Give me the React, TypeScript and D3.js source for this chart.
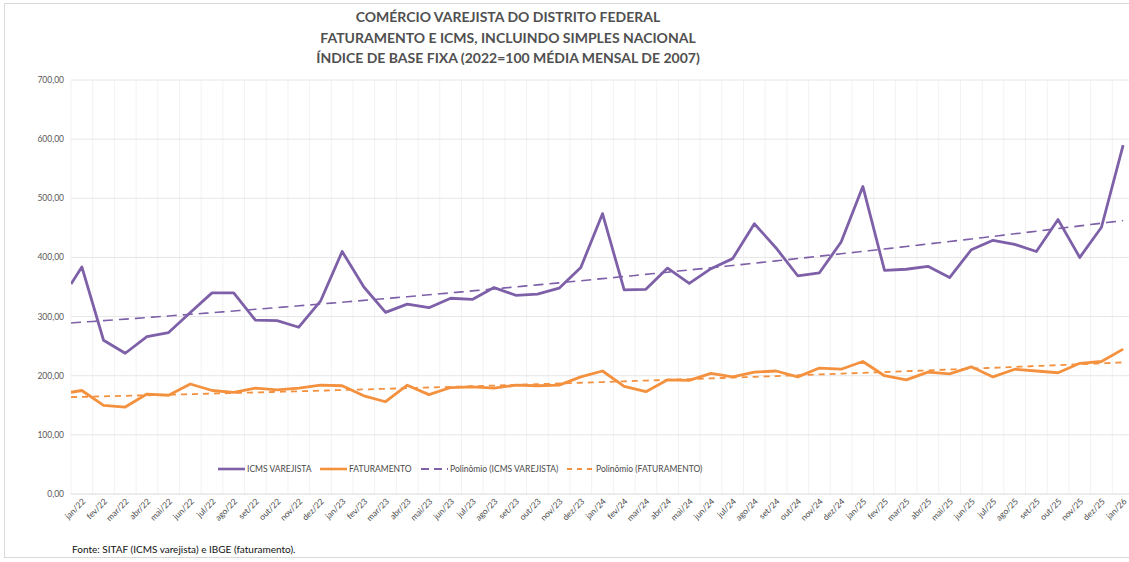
import React from "react";
import * as d3 from "d3";

const months = [
  "jan/22","fev/22","mar/22","abr/22","mai/22","jun/22","jul/22","ago/22","set/22","out/22","nov/22","dez/22",
  "jan/23","fev/23","mar/23","abr/23","mai/23","jun/23","jul/23","ago/23","set/23","out/23","nov/23","dez/23",
  "jan/24","fev/24","mar/24","abr/24","mai/24","jun/24","jul/24","ago/24","set/24","out/24","nov/24","dez/24",
  "jan/25","fev/25","mar/25","abr/25","mai/25","jun/25","jul/25","ago/25","set/25","out/25","nov/25","dez/25",
  "jan/26",
];

const icms = [
  384, 260, 238, 266, 273, 307, 340, 340, 294, 293, 282, 326,
  410, 350, 307, 321, 315, 331, 329, 349, 336, 338, 348, 383,
  474, 345, 346, 382, 356, 381, 398, 457, 416, 369, 374, 426,
  520, 378, 380, 385, 366, 413, 429, 422, 410, 464, 400, 451,
  590,
];

const faturamento = [
  175, 150, 147, 169, 167, 186, 175, 172, 179, 176, 179, 184,
  183, 166, 156, 184, 168, 180, 181, 179, 184, 183, 184, 198,
  208, 182, 173, 193, 192, 204, 198, 206, 208, 198, 213, 211,
  224, 200, 193, 206, 203, 215, 198, 211, 208, 205, 221, 224,
  245,
];

// values where the lines enter at the plot's left edge
const icmsStart = 355;
const fatStart = 172;

const yTicks = [0, 100, 200, 300, 400, 500, 600, 700];

const titleLines = [
  "COMÉRCIO VAREJISTA DO DISTRITO FEDERAL",
  "FATURAMENTO E ICMS, INCLUINDO SIMPLES NACIONAL",
  "ÍNDICE DE BASE FIXA (2022=100 MÉDIA MENSAL DE 2007)",
];

const legendItems = [
  { label: "ICMS VAREJISTA", color: "#7e60a8", dash: "none", x: 218 },
  { label: "FATURAMENTO", color: "#f4913f", dash: "none", x: 320 },
  { label: "Polinômio (ICMS VAREJISTA)", color: "#7e60a8", dash: "8,5", x: 421 },
  { label: "Polinômio (FATURAMENTO)", color: "#f4913f", dash: "5,5", x: 567 },
];

function polyFit2(xs: number[], ys: number[]) {
  let s0 = 0, s1 = 0, s2 = 0, s3 = 0, s4 = 0, t0 = 0, t1 = 0, t2 = 0;
  xs.forEach((x, i) => {
    const y = ys[i];
    s0 += 1; s1 += x; s2 += x * x; s3 += x * x * x; s4 += x * x * x * x;
    t0 += y; t1 += x * y; t2 += x * x * y;
  });
  const A = [[s0, s1, s2, t0], [s1, s2, s3, t1], [s2, s3, s4, t2]];
  for (let c = 0; c < 3; c++) {
    for (let r = c + 1; r < 3; r++) {
      const f = A[r][c] / A[c][c];
      for (let k = c; k < 4; k++) A[r][k] -= f * A[c][k];
    }
  }
  const b = [0, 0, 0];
  for (let r = 2; r >= 0; r--) {
    let s = A[r][3];
    for (let k = r + 1; k < 3; k++) s -= A[r][k] * b[k];
    b[r] = s / A[r][r];
  }
  return (x: number) => b[0] + b[1] * x + b[2] * x * x;
}

export default function App() {
  const W = 1129, H = 562;
  const left = 71, right = 1134, top = 80, bottom = 494;
  const n = months.length;
  const x = d3.scaleLinear().domain([-0.5, n - 0.5]).range([left, right]);
  const y = d3.scaleLinear().domain([0, 700]).range([bottom, top]);

  const line = d3.line<[number, number]>().x(d => x(d[0])).y(d => y(d[1]));

  const icmsPts: [number, number][] = [[-0.5, icmsStart], ...icms.map((v, i) => [i, v] as [number, number])];
  const fatPts: [number, number][] = [[-0.5, fatStart], ...faturamento.map((v, i) => [i, v] as [number, number])];

  const idx = icms.map((_, i) => i);
  const fIcms = polyFit2(idx, icms);
  const fFat = polyFit2(idx, faturamento);
  const trendX = d3.range(-0.5, n - 1 + 0.001, 0.25);
  const icmsTrend: [number, number][] = trendX.map(t => [t, fIcms(t)]);
  const fatTrend: [number, number][] = trendX.map(t => [t, fFat(t)]);

  const font = "Lato, 'Open Sans', 'DejaVu Sans', sans-serif";

  return (
    <div style={{ position: "absolute", left: 0, top: 0 }}>
      <svg width={W} height={H} style={{ display: "block", background: "#fff" }} fontFamily={font}>
        <rect x={4.5} y={3.5} width={W + 10} height={H - 8} fill="#fff" stroke="#d9d9d9" />
        <defs>
          <clipPath id="plot">
            <rect x={left} y={top - 20} width={right - left} height={bottom - top + 20} />
          </clipPath>
        </defs>

        {titleLines.map((t, i) => (
          <text key={i} x={508} y={22 + i * 20.5} textAnchor="middle" fontSize={14} fontWeight="bold" fill="#505050">
            {t}
          </text>
        ))}

        {/* vertical gridlines */}
        {d3.range(0, n + 1).map(i => (
          <line key={"v" + i} x1={x(i - 0.5)} x2={x(i - 0.5)} y1={top} y2={bottom} stroke="#f2f2f2" strokeWidth={1} />
        ))}
        {/* horizontal gridlines */}
        {yTicks.map(t => (
          <g key={"h" + t}>
            <line x1={left} x2={right} y1={y(t)} y2={y(t)} stroke={t === 0 ? "#d9d9d9" : "#e6e6e6"} strokeWidth={1} />
            <text x={64} y={y(t)} dy="0.35em" textAnchor="end" fontSize={8.5} fill="#595959">
              {d3.format(".2f")(t).replace(".", ",")}
            </text>
          </g>
        ))}

        {/* x labels */}
        {months.map((m, i) => (
          <text key={m} transform={`translate(${x(i) + 2},${bottom + 6}) rotate(-45)`} textAnchor="end" dy="0.35em" fontSize={8.5} fill="#4a4a4a">
            {m}
          </text>
        ))}

        <g clipPath="url(#plot)">
          <path d={line(icmsTrend) || ""} fill="none" stroke="#7e60a8" strokeWidth={1.6} strokeDasharray="10,6" />
          <path d={line(fatTrend) || ""} fill="none" stroke="#f4913f" strokeWidth={1.8} strokeDasharray="6,5" />
          <path d={line(icmsPts) || ""} fill="none" stroke="#7e60a8" strokeWidth={2.8} strokeLinejoin="round" />
          <path d={line(fatPts) || ""} fill="none" stroke="#f4913f" strokeWidth={2.8} strokeLinejoin="round" />
        </g>

        {/* legend */}
        {legendItems.map(it => (
          <g key={it.label}>
            <line x1={it.x} x2={it.x + 27} y1={469} y2={469} stroke={it.color} strokeWidth={it.dash === "none" ? 2.6 : 1.8} strokeDasharray={it.dash} />
            <text x={it.x + 29} y={469} dy="0.35em" fontSize={8.5} fill="#4a4a4a">{it.label}</text>
          </g>
        ))}

        <text x={72} y={549} dy="0.35em" fontSize={10} fill="#111">
          Fonte: SITAF (ICMS varejista) e IBGE (faturamento).
        </text>
      </svg>
    </div>
  );
}
